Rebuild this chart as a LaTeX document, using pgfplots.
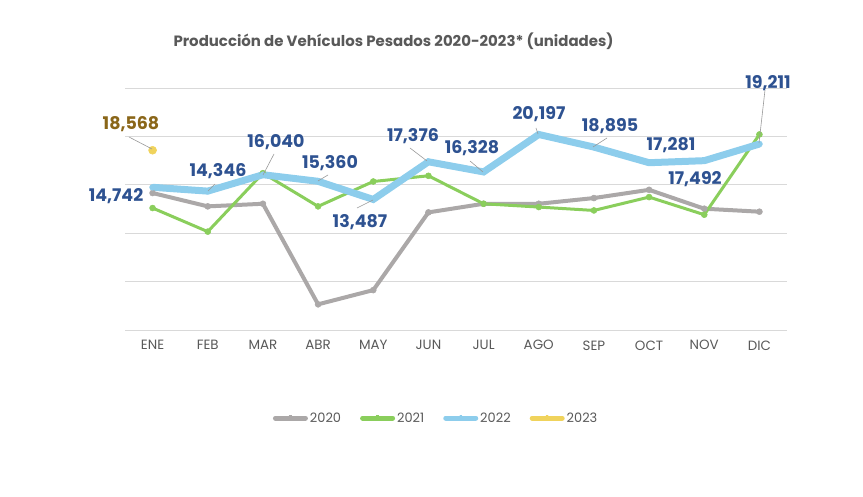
\documentclass[border=0pt]{standalone}
\usepackage{pgfplots}
\pgfplotsset{compat=1.18}
\usepackage{fontspec}
\setmainfont{Poppins}
\definecolor{cgray}{HTML}{ABA8A8}
\definecolor{cgreen}{HTML}{8ACE5C}
\definecolor{cblue}{HTML}{8DCDEC}
\definecolor{cyellow}{HTML}{F0D35C}
\definecolor{lblblue}{HTML}{2E5291}
\definecolor{lblgold}{HTML}{8A6619}
\definecolor{txtgray}{HTML}{595959}
\definecolor{gridc}{HTML}{D9D9D9}
\pgfplotsset{myleg/.style={legend image code/.code={\draw[##1, line width=5bp, line cap=round] (0bp,0bp) -- (30bp,0bp); \fill[##1, line width=0pt] (15bp,0bp) circle (2.8bp);}}}
\begin{document}
\begin{tikzpicture}[x=1bp,y=1bp]
\useasboundingbox (0,0) rectangle (863,497);
\node[font=\fontsize{15}{16}\selectfont\bfseries, text=txtgray] at (393.5,456) {Producción de Vehículos Pesados 2020-2023* (unidades)};
\begin{axis}[
  at={(125bp,167bp)}, anchor=south west,
  scale only axis, width=662bp, height=242bp,
  xmin=-0.5, xmax=11.5, ymin=0, ymax=25000,
  scaled y ticks=false,
  xtick={0,...,11},
  xticklabels={ENE,FEB,MAR,ABR,MAY,JUN,JUL,AGO,SEP,OCT,NOV,DIC},
  xticklabel style={font=\fontsize{13.5}{14}\selectfont, text=txtgray, yshift=-7bp},
  ytick={0,5000,10000,15000,20000,25000},
  yticklabels={},
  ymajorgrids, grid style={gridc, line width=0.8pt},
  axis line style={draw=none}, tick style={draw=none},
  clip=false,
  legend columns=4,
  legend style={at={(0.47,-0.364)}, anchor=center, draw=none, fill=none,
    font=\fontsize{13}{14}\selectfont, text=txtgray,
    /tikz/every even column/.append style={column sep=17bp}},
  legend cell align=left,
]
\addplot[myleg, cgray, line width=4bp, mark=*, mark size=3bp, mark options={line width=0.5bp}] coordinates {
(0,14150) (1,12770) (2,13040) (3,2650) (4,4120) (5,12150) (6,13040) (7,13040) (8,13630) (9,14480) (10,12530) (11,12220)};
\addlegendentry{2020}
\addplot[myleg, cgreen, line width=3bp, mark=*, mark size=3bp, mark options={line width=0.5bp}] coordinates {
(0,12600) (1,10160) (2,16200) (3,12770) (4,15340) (5,15930) (6,13040) (7,12700) (8,12350) (9,13730) (10,11910) (11,20200)};
\addlegendentry{2021}
\addplot[myleg, cblue, line width=7bp, mark=*, mark size=3bp, mark options={line width=0.5bp}] coordinates {
(0,14742) (1,14346) (2,16040) (3,15360) (4,13487) (5,17376) (6,16328) (7,20197) (8,18895) (9,17281) (10,17492) (11,19211)};
\addlegendentry{2022}
\addplot[myleg, cyellow, only marks, mark=*, mark size=4bp, mark options={line width=0.5bp}] coordinates {(0,18568)};
\addlegendentry{2023}
\end{axis}
% leader lines (pixel coordinates, y from bottom)
\begin{scope}[draw=gray!80, line width=0.6bp]
\draw (129,360) -- (152,348);
\draw (215,313) -- (208,306);
\draw (274,343) -- (263,322);
\draw (328,322) -- (318,316);
\draw (357,289) -- (373,297);
\draw (410,349) -- (427,336);
\draw (470,336) -- (483,325);
\draw (536,369) -- (538,363);
\draw (607,359) -- (593,350);
\draw (765,407) -- (759,354);
\end{scope}
\begin{scope}[every node/.style={font=\fontsize{17.5}{18}\selectfont\bfseries, text=lblblue, inner sep=0pt}]
\node[text=lblgold] at (131,373) {18,568};
\node at (116,301) {14,742};
\node at (218,326) {14,346};
\node at (276,355) {16,040};
\node at (330,334) {15,360};
\node at (360,275) {13,487};
\node at (413,361) {17,376};
\node at (472,349) {16,328};
\node at (539,383) {20,197};
\node at (610,371) {18,895};
\node at (671,352) {17,281};
\node at (695,318) {17,492};
\node at (768,414) {19,211};
\end{scope}
\end{tikzpicture}
\end{document}
